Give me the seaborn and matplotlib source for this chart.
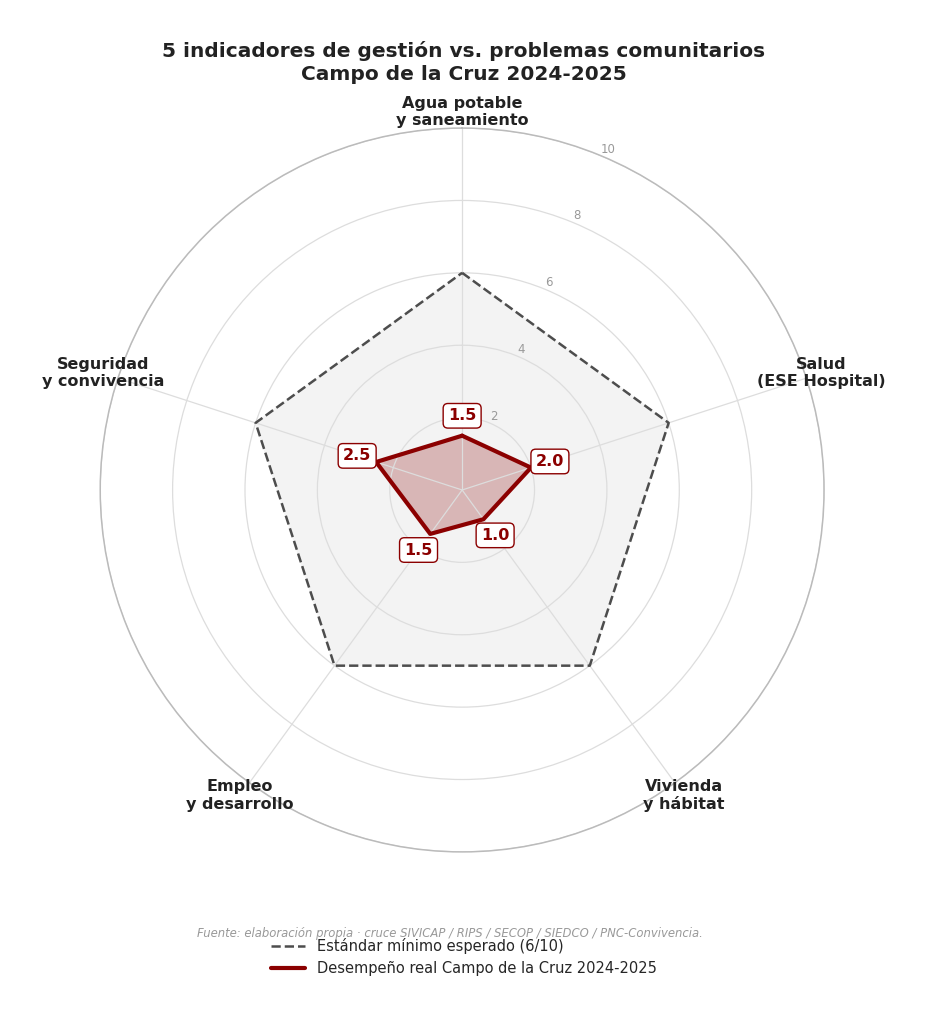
import numpy as np
import pandas as pd
import matplotlib
matplotlib.use("Agg")
import matplotlib.pyplot as plt
import seaborn as sns

# -------------------------------
# Data
# -------------------------------

categorias = [
    "Agua potable\ny saneamiento",
    "Salud\n(ESE Hospital)",
    "Vivienda\ny hábitat",
    "Empleo\ny desarrollo",
    "Seguridad\ny convivencia",
]
desempeno = [1.5, 2.0, 1.0, 1.5, 2.5]
estandar = [6, 6, 6, 6, 6]
radial_ticks = [2, 4, 6, 8, 10]

titulo = "5 indicadores de gestión vs. problemas comunitarios\nCampo de la Cruz 2024-2025"
fuente = "Fuente: elaboración propia · cruce SIVICAP / RIPS / SECOP / SIEDCO / PNC-Convivencia."
label_std = "Estándar mínimo esperado (6/10)"
label_real = "Desempeño real Campo de la Cruz 2024-2025"

# -------------------------------
# Plot
# -------------------------------

sns.set_theme(style="white")
plt.rcParams["font.family"] = ["DejaVu Sans"]

n = len(categorias)
angles = np.linspace(0, 2 * np.pi, n, endpoint=False)

# close the polygon (last point = first point)
df = pd.DataFrame({
    "angle": np.concatenate([angles, angles[:1] + 2 * np.pi]),
    "real": desempeno + desempeno[:1],
    "std": estandar + estandar[:1],
})

fig = plt.figure(figsize=(9.28, 10.24), dpi=100)
ax = fig.add_axes([0.108, 0.168, 0.780, 0.707], projection="polar")
ax.set_theta_offset(np.pi / 2)
ax.set_theta_direction(-1)

# standard polygon
ax.fill(df["angle"], df["std"], color="#f3f3f3", zorder=0.1)
sns.lineplot(data=df, x="angle", y="std", sort=False, estimator=None, ax=ax,
             color="#4d4d4d", linestyle="--", linewidth=1.8, label=label_std,
             zorder=3)

# real performance
ax.fill(df["angle"], df["real"], color="#8b0000", alpha=0.25, zorder=0.2)
sns.lineplot(data=df, x="angle", y="real", sort=False, estimator=None, ax=ax,
             color="#8b0000", linewidth=3, label=label_real, zorder=4)

for a, v in zip(angles, desempeno):
    ax.text(a, v + 0.55, f"{v:.1f}", ha="center", va="center", fontsize=11.5,
            fontweight="bold", color="#8b0000", zorder=6,
            bbox=dict(boxstyle="round,pad=0.3", fc="white", ec="#8b0000", lw=1))

ax.set_ylim(0, 10)
ax.set_yticks(radial_ticks)
ax.set_yticklabels([str(t) for t in radial_ticks], color="#999999", fontsize=8.5)
ax.set_rlabel_position(22.5)
ax.set_xticks(angles)
ax.set_xticklabels([])
ax.grid(True, color="#dddddd", linewidth=0.9)
ax.spines["polar"].set_color("#bbbbbb")
ax.spines["polar"].set_linewidth(1.1)
ax.set_xlabel("")
ax.set_ylabel("")

for a, c in zip(angles, categorias):
    ax.text(a, 10.44, c, ha="center", va="center", fontsize=11.5,
            fontweight="bold", color="#222222", clip_on=False, linespacing=1.2)

ax.legend(loc="upper center", bbox_to_anchor=(0.5, 0.097),
          bbox_transform=fig.transFigure, frameon=False, fontsize=10.5,
          handlelength=2.3, labelspacing=0.5)

fig.text(0.5, 0.939, titulo, ha="center", va="center", fontsize=14.5,
         fontweight="bold", color="#222222", linespacing=1.25)
fig.text(0.485, 0.088, fuente, ha="center", va="center", fontsize=8.4,
         style="italic", color="#999999")

fig.savefig("out.png", dpi=100, facecolor="white")
